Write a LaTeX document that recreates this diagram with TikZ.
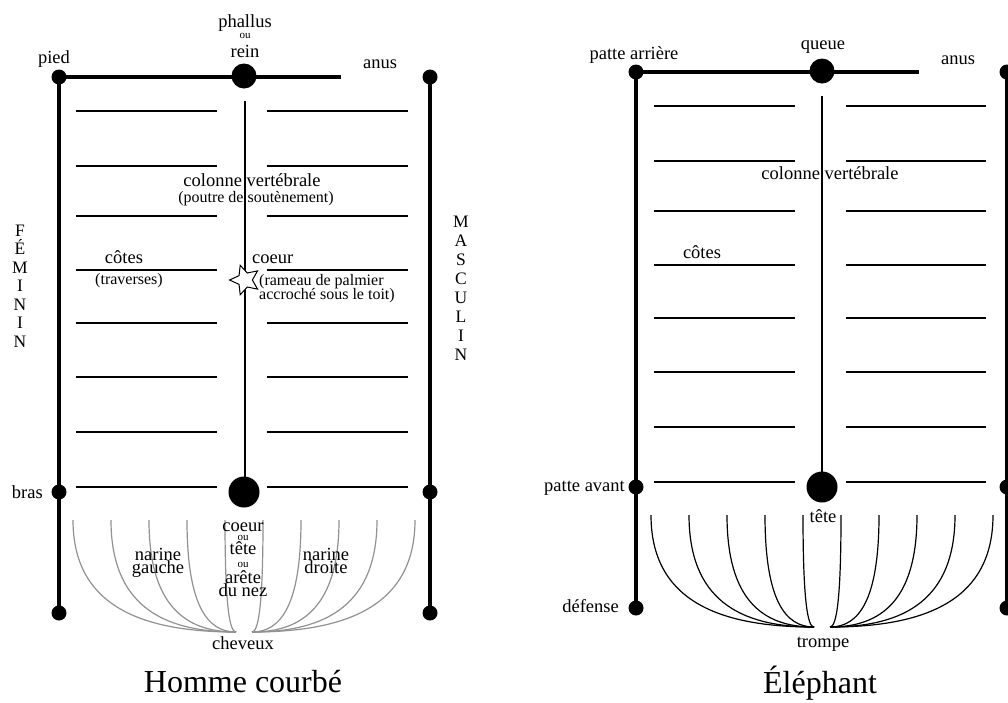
\documentclass[tikz,border=0pt]{standalone}
\usepackage{fontspec}
\setmainfont{Liberation Serif}
\usetikzlibrary{shapes.geometric}
\definecolor{fangray}{RGB}{145,145,145}
\tikzset{
  lbl/.style={anchor=base, inner sep=0pt, font=\fontsize{18.5}{20}\selectfont},
  sml/.style={anchor=base, inner sep=0pt, font=\fontsize{16}{18}\selectfont},
  tinylbl/.style={anchor=base, inner sep=0pt, font=\fontsize{11}{12}\selectfont},
  ttl/.style={anchor=base, inner sep=0pt, font=\fontsize{32}{36}\selectfont},
  vlet/.style={anchor=base, inner sep=0pt, font=\fontsize{17.5}{18}\selectfont},
  thickbar/.style={line width=4.5pt},
  rib/.style={line width=1.3pt},
  dotS/.style={circle, fill=black, inner sep=0pt, minimum size=15pt},
  dotB/.style={circle, fill=black, inner sep=0pt, minimum size=25pt},
  dotC/.style={circle, fill=black, inner sep=0pt, minimum size=31pt},
  fanline/.style={line width=1.2pt},
  starbox/.style={star, star points=5, star point ratio=2.1, minimum size=31pt, inner sep=0pt,
    shape border rotate=90, draw=black, fill=white, line width=1pt},
}
\begin{document}
\begin{tikzpicture}[x=1pt, y=-1pt]
\useasboundingbox (0,0) rectangle (1008,702);

% ================= Homme courbe =================
\begin{scope}[name prefix=L-]
  % ribs
  \foreach \yy [count=\i] in {111,166,216,270,323,377,432,487} {
    \coordinate (la\i) at (76,\yy);  \coordinate (lb\i) at (217,\yy);
    \coordinate (ra\i) at (267,\yy); \coordinate (rb\i) at (408,\yy);
    \draw[rib] (la\i) -- (lb\i);
    \draw[rib] (ra\i) -- (rb\i);
  }
  % spine
  \coordinate (spinetop) at (245,101);
  \coordinate (spinebot) at (245,478);
  \draw[rib] (spinetop) -- (spinebot);
  % bars
  \coordinate (pc) at (59,77);
  \coordinate (topend) at (341,77);
  \coordinate (blc) at (59,613);
  \coordinate (trc) at (430,77);
  \coordinate (brc) at (430,613);
  \draw[thickbar] (topend) -- (pc) -- (blc);
  \draw[thickbar] (trc) -- (brc);
  % dots
  \node[dotS] (pied) at (59,77) {};
  \node[dotS] (bras) at (59,492) {};
  \node[dotS] (bl) at (59,613) {};
  \node[dotS] (tr) at (430,77) {};
  \node[dotS] (mr) at (430,492) {};
  \node[dotS] (br) at (430,613) {};
  \node[dotB] (phal) at (244,76) {};
  \node[dotC] (head) at (244,492) {};
  % star
  \node[starbox] (star) at (245,280) {};
  % fan
  \foreach \d [count=\i] in {171,133,95,57,19} {
    \coordinate (fl\i) at ({244-\d},520);
    \coordinate (fr\i) at ({244+\d},520);
    \coordinate (fel) at (236,632);
    \coordinate (fer) at (252,632);
    \draw[fanline, fangray] (fl\i) .. controls ({244-\d},604) and ({244-\d+0.4*(\d-8)},632) .. (fel);
    \draw[fanline, fangray] (fr\i) .. controls ({244+\d},604) and ({244+\d-0.4*(\d-8)},632) .. (fer);
  }
  % labels
  \node[lbl] (tpied) at (54,63) {pied};
  \node[lbl] (tphal) at (245,27) {phallus};
  \node[tinylbl] (tou1) at (245,38) {ou};
  \node[lbl] (trein) at (245,57) {rein};
  \node[lbl] (tanus) at (380,68) {anus};
  \node[lbl] (tcol) at (252,186) {colonne vertébrale};
  \node[sml] (tpou) at (256,202) {(poutre de soutènement)};
  \node[lbl] (tcot) at (124,263) {côtes};
  \node[sml] (ttra) at (129,284) {(traverses)};
  \node[lbl, anchor=base west] (tcoe) at (252,263) {coeur};
  \node[sml, anchor=base west] (tram) at (259,285) {(rameau de palmier};
  \node[sml, anchor=base west] (tacc) at (259,299) {accroché sous le toit)};
  \node[lbl, anchor=base east] (tbras) at (43,498) {bras};
  \node[lbl] (tn1) at (158,560) {narine};
  \node[lbl] (tg1) at (158,573) {gauche};
  \node[lbl] (tn2) at (326,560) {narine};
  \node[lbl] (td2) at (326,573) {droite};
  \node[lbl] (tc1) at (243,531) {coeur};
  \node[tinylbl] (tc2) at (243,540) {ou};
  \node[lbl] (tc3) at (243,554) {tête};
  \node[tinylbl] (tc4) at (243,567) {ou};
  \node[lbl] (tc5) at (243,583) {arête};
  \node[lbl] (tc6) at (243,596) {du nez};
  \node[lbl] (tchev) at (243,649) {cheveux};
  \node[ttl] (ttitle) at (243,692) {Homme courbé};
  \foreach \c [count=\i] in {F,É,M,I,N,I,N} {
    \node[vlet] (fem\i) at (20,{236+18.5*(\i-1)}) {\c};
  }
  \foreach \c [count=\i] in {M,A,S,C,U,L,I,N} {
    \node[vlet] (mas\i) at (461,{227+19*(\i-1)}) {\c};
  }
\end{scope}

% ================= Elephant =================
\begin{scope}[name prefix=E-]
  \foreach \yy [count=\i] in {106,161,211,265,318,372,427,482} {
    \coordinate (la\i) at (654,\yy);  \coordinate (lb\i) at (795,\yy);
    \coordinate (ra\i) at (846,\yy);  \coordinate (rb\i) at (986,\yy);
    \draw[rib] (la\i) -- (lb\i);
    \draw[rib] (ra\i) -- (rb\i);
  }
  \coordinate (spinetop) at (822,96);
  \coordinate (spinebot) at (822,473);
  \draw[rib] (spinetop) -- (spinebot);
  \coordinate (pc) at (636,72);
  \coordinate (topend) at (919,72);
  \coordinate (blc) at (636,608);
  \coordinate (trc) at (1007,72);
  \coordinate (brc) at (1007,608);
  \draw[thickbar] (topend) -- (pc) -- (blc);
  \draw[thickbar] (trc) -- (brc);
  \node[dotS] (arr) at (636,72) {};
  \node[dotS] (avant) at (636,487) {};
  \node[dotS] (def) at (636,608) {};
  \node[dotS] (tr) at (1007,72) {};
  \node[dotS] (mr) at (1007,487) {};
  \node[dotS] (br) at (1007,608) {};
  \node[dotB] (queue) at (822,71) {};
  \node[dotC] (head) at (822,487) {};
  \foreach \d [count=\i] in {171,133,95,57,19} {
    \coordinate (fl\i) at ({822-\d},515);
    \coordinate (fr\i) at ({822+\d},515);
    \coordinate (fel) at (814,627);
    \coordinate (fer) at (830,627);
    \draw[fanline] (fl\i) .. controls ({822-\d},599) and ({822-\d+0.4*(\d-8)},627) .. (fel);
    \draw[fanline] (fr\i) .. controls ({822+\d},599) and ({822+\d-0.4*(\d-8)},627) .. (fer);
  }
  \node[lbl] (tarr) at (634,59) {patte arrière};
  \node[lbl] (tque) at (823,49) {queue};
  \node[lbl] (tanus) at (958,64) {anus};
  \node[lbl] (tcol) at (830,179) {colonne vertébrale};
  \node[lbl] (tcot) at (702,258) {côtes};
  \node[lbl, anchor=base east] (tav) at (625,491) {patte avant};
  \node[lbl, anchor=base east] (tdef) at (619,612) {défense};
  \node[lbl] (ttete) at (823,522) {tête};
  \node[lbl] (ttro) at (823,647) {trompe};
  \node[ttl] (ttitle) at (820,693) {Éléphant};
\end{scope}
\end{tikzpicture}
\end{document}
